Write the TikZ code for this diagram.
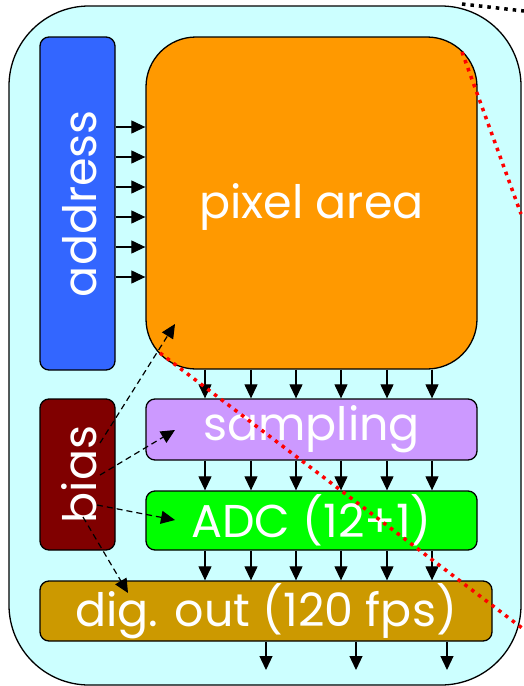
\documentclass[tikz,border=0pt]{standalone}
\usepackage{fontspec}
\setmainfont{Poppins}
\usepackage{tikz}
\usetikzlibrary{arrows.meta, positioning, calc}
\definecolor{chipbg}{RGB}{204,255,255}
\definecolor{addrC}{RGB}{51,102,255}
\definecolor{pixC}{RGB}{255,153,0}
\definecolor{sampC}{RGB}{204,153,255}
\definecolor{adcC}{RGB}{0,255,0}
\definecolor{biasC}{RGB}{128,0,0}
\definecolor{digC}{RGB}{204,153,0}

\begin{document}
\begin{tikzpicture}[
    x=1pt,y=-1pt,
    blk/.style={draw,line width=1.3pt,rounded corners=9pt,inner sep=0pt},
    lbl/.style={text=white,inner sep=0pt,font=\fontsize{46}{46}\selectfont},
    arr/.style={-{Triangle[length=14pt,width=13pt]},line width=1.2pt},
    darr/.style={arr,dashed,dash pattern=on 6pt off 4pt},
    dots/.style={line width=3.5pt,dash pattern=on 3.5pt off 5pt}
  ]
  \useasboundingbox (0,0) rectangle (524,686);

  % chip outline
  \node[blk,fill=chipbg,rounded corners=80pt,
    minimum width=512pt,minimum height=679pt] (chip) at (265,345.5) {};

  % blocks
  \node[blk,fill=addrC,minimum width=75pt,minimum height=333pt] (addr) at (77.5,203.5) {};
  \node[lbl,rotate=90] at ([xshift=2pt]addr.center) {address};
  \node[blk,fill=pixC,rounded corners=50pt,
    minimum width=331pt,minimum height=332pt] (pix) at (311.5,203) {};
  \node[lbl] at ([yshift=-4pt]pix.center) {pixel area};
  \node[blk,fill=sampC,minimum width=331pt,minimum height=61pt] (samp) at (311.5,429.5) {};
  \node[lbl] at (samp.center) {sampling};
  \node[blk,fill=adcC,minimum width=331pt,minimum height=59pt] (adc) at (311.5,520.5) {};
  \node[lbl] at (adc.center) {ADC (12+1)};
  \node[blk,fill=biasC,minimum width=75pt,minimum height=151pt] (bias) at (77.5,474.5) {};
  \node[lbl,rotate=90] at ([xshift=2pt]bias.center) {bias};
  \node[blk,fill=digC,minimum width=452pt,minimum height=60pt] (dig) at (266,611) {};
  \node[lbl] at (dig.center) {dig. out (120 fps)};

  % row select lines
  \foreach \y in {127,157,187,217,247,277}
    \draw[arr] (addr.east |- 0,\y) -- (pix.west |- 0,\y);

  % column data path
  \foreach \x in {205,251,296,341,387,432} {
    \draw[arr] (\x,0 |- pix.south) -- (\x,0 |- samp.north);
    \draw[arr] (\x,0 |- samp.south) -- (\x,0 |- adc.north);
    \draw[arr] (\x,0 |- adc.south) -- (\x,0 |- dig.north);
  }
  \foreach \x in {266,356,447}
    \draw[arr] (\x,0 |- dig.south) -- (\x,670);

  % bias distribution
  \coordinate (b1) at (100,443);  \coordinate (t1) at (175,324);
  \coordinate (b2) at (100,475);  \coordinate (t2) at (175,430);
  \coordinate (b3) at (97,505);   \coordinate (t3) at (175,520);
  \coordinate (b4) at (83,517);   \coordinate (t4) at (128,593);
  \draw[darr] (b1) -- (t1);
  \draw[darr] (b2) -- (t2);
  \draw[darr] (b3) -- (t3);
  \draw[darr] (b4) -- (t4);

  % zoom guides
  \coordinate (z1) at (462,4);   \coordinate (z2) at (524,11);
  \coordinate (r1) at (462,52);  \coordinate (r2) at (521,214);
  \coordinate (r3) at (160,353); \coordinate (r4) at (522,628);
  \draw[dots,black] (z1) -- (z2);
  \draw[dots,red] (r1) -- (r2);
  \draw[dots,red] (r3) -- (r4);
\end{tikzpicture}
\end{document}
